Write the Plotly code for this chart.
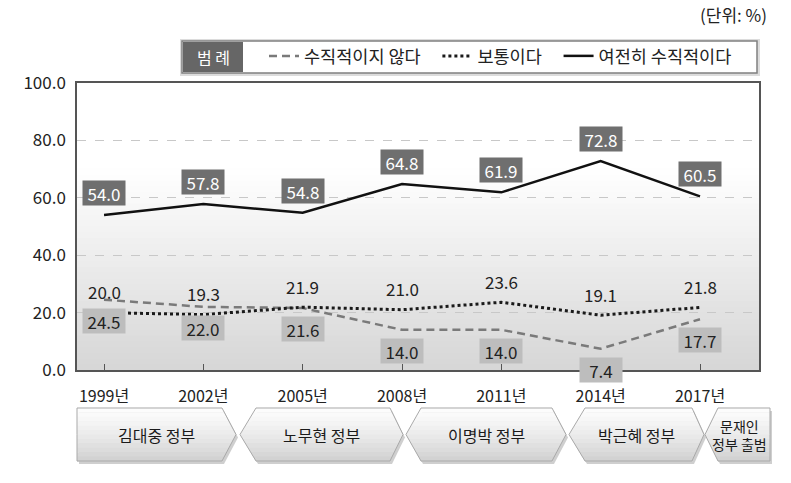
import plotly.graph_objects as go

# 조사 연도와 응답 비율(%)
YEARS = ["1999년", "2002년", "2005년", "2008년", "2011년", "2014년", "2017년"]
NOT_VERTICAL = [24.5, 22.0, 21.6, 14.0, 14.0, 7.4, 17.7]
NORMAL = [20.0, 19.3, 21.9, 21.0, 23.6, 19.1, 21.8]
STILL_VERTICAL = [54.0, 57.8, 54.8, 64.8, 61.9, 72.8, 60.5]
SERIES_NAMES = ["수직적이지 않다", "보통이다", "여전히 수직적이다"]
Y_TICKS = [0, 20, 40, 60, 80, 100]
Y_TICK_TEXT = ["0.0", "20.0", "40.0", "60.0", "80.0", "100.0"]
GOVERNMENTS = ["김대중 정부", "노무현 정부", "이명박 정부", "박근혜 정부", "문재인<br>정부 출범"]

FONT = "Noto Sans CJK KR"
W, H = 791, 483
PLOT_L, PLOT_R, PLOT_T, PLOT_B = 77, 759, 83, 370

# 정부 구간 도형: (왼쪽 끝, 왼쪽 모서리, 오른쪽 모서리, 오른쪽 끝) 픽셀
GOV_BOUNDS = [
    (77, 77, 222, 236),
    (240, 256, 390, 403),
    (406, 421, 552, 566),
    (569, 585, 692, 704),
    (705, 718, 770, 770),
]
GOV_TOP, GOV_BOTTOM = 408, 461
NBSP = "\u00a0"


def px(x):
    return (x - PLOT_L) / (PLOT_R - PLOT_L)


def py(y):
    return (PLOT_B - y) / (PLOT_B - PLOT_T)


def _gray(v):
    v = max(0, min(255, int(round(v))))
    return f"rgb({v},{v},{v})"


def _hex_edges(bounds, y):
    tip_l, corner_l, corner_r, tip_r = bounds
    mid = (GOV_TOP + GOV_BOTTOM) / 2
    half = (GOV_BOTTOM - GOV_TOP) / 2
    k = abs(y - mid) / half
    return tip_l + (corner_l - tip_l) * k, tip_r - (tip_r - corner_r) * k


def _path(points):
    return "M " + " L ".join(f"{px(x):.5f},{py(y):.5f}" for x, y in points) + " Z"


def _hex_points(bounds, dx=0, dy=0):
    tip_l, corner_l, corner_r, tip_r = bounds
    mid = (GOV_TOP + GOV_BOTTOM) / 2
    pts = [(corner_l, GOV_TOP), (corner_r, GOV_TOP), (tip_r, mid),
           (corner_r, GOV_BOTTOM), (corner_l, GOV_BOTTOM), (tip_l, mid)]
    return [(x + dx, y + dy) for x, y in pts]


fig = go.Figure()

styles = [
    dict(color="#7a7a7a", width=2.5, dash="8px,5px"),
    dict(color="#1a1a1a", width=3, dash="dot"),
    dict(color="#111111", width=2.5),
]
pads = [3, 3, 0]  # 범례 항목 사이 간격
for name, values, line, pad in zip(SERIES_NAMES, [NOT_VERTICAL, NORMAL, STILL_VERTICAL], styles, pads):
    fig.add_trace(go.Scatter(x=YEARS, y=values, mode="lines", name=name + NBSP * pad,
                             line=line, hoverinfo="skip"))

shapes = []

# 플롯 배경 그라데이션
n_strips = 35
for i in range(n_strips):
    y0 = 70 * i / n_strips
    y1 = 70 * (i + 1) / n_strips
    t = (y0 + y1) / 2 / 70
    shapes.append(dict(type="rect", xref="paper", yref="y", x0=0, x1=1, y0=y0, y1=y1 + 0.3,
                       fillcolor=_gray(214 + 41 * t), line_width=0, layer="below"))

# 정부 구간 도형
for bounds in GOV_BOUNDS:
    shapes.append(dict(type="path", xref="paper", yref="paper",
                       path=_path(_hex_points(bounds, 2, 3)),
                       fillcolor="#cfcfcf", line_width=0, layer="above"))
    n = 12
    for k in range(n):
        ya = GOV_TOP + (GOV_BOTTOM - GOV_TOP) * k / n
        yb = GOV_TOP + (GOV_BOTTOM - GOV_TOP) * (k + 1) / n
        la, ra = _hex_edges(bounds, ya)
        lb, rb = _hex_edges(bounds, yb)
        t = (k + 0.5) / n
        shapes.append(dict(type="path", xref="paper", yref="paper",
                           path=_path([(la, ya), (ra, ya), (rb, yb + 0.4), (lb, yb + 0.4)]),
                           fillcolor=_gray(253 - 45 * t ** 1.3), line_width=0, layer="above"))
    shapes.append(dict(type="path", xref="paper", yref="paper",
                       path=_path(_hex_points(bounds)),
                       line=dict(color="#a9a9a9", width=1), layer="above"))

# 범례 상자
shapes += [
    dict(type="rect", xref="paper", yref="paper", x0=px(180), x1=px(760), y0=py(39), y1=py(76),
         fillcolor="#dcdcdc", line_width=0),
    dict(type="rect", xref="paper", yref="paper", x0=px(182), x1=px(757), y0=py(41), y1=py(73),
         fillcolor="white", line=dict(color="#808080", width=1.5)),
    dict(type="rect", xref="paper", yref="paper", x0=px(183), x1=px(243), y0=py(42), y1=py(72),
         fillcolor="#666666", line_width=0),
]

annotations = [
    dict(text="범 례", xref="paper", yref="paper", x=px(213), y=py(57), showarrow=False,
         xanchor="center", yanchor="middle",
         font=dict(size=16, color="white", family=FONT)),
    dict(text="(단위: %)", xref="paper", yref="paper", x=px(769), y=py(14), xanchor="right",
         yanchor="middle", showarrow=False, font=dict(size=17, color="#222222", family=FONT)),
]

for year, v in zip(YEARS, STILL_VERTICAL):
    annotations.append(dict(x=year, y=v, text=f"{v:.1f}", showarrow=False, yshift=22,
                            bgcolor="#6f6f6f", width=38, height=20, borderpad=2,
                            font=dict(size=17, color="white", family=FONT)))
for year, v in zip(YEARS, NORMAL):
    annotations.append(dict(x=year, y=v, text=f"{v:.1f}", showarrow=False, yshift=21,
                            font=dict(size=17, color="#222222", family=FONT)))
for year, v in zip(YEARS, NOT_VERTICAL):
    annotations.append(dict(x=year, y=v, text=f"{v:.1f}", showarrow=False, yshift=-21,
                            bgcolor="#bdbdbd", width=38, height=20, borderpad=2,
                            font=dict(size=17, color="#222222", family=FONT)))

for name, (tip_l, corner_l, corner_r, tip_r) in zip(GOVERNMENTS, GOV_BOUNDS):
    small = "<br>" in name
    annotations.append(dict(text=name, xref="paper", yref="paper",
                            x=px((tip_l + tip_r) / 2 + (2 if small else 0)),
                            y=py((GOV_TOP + GOV_BOTTOM) / 2), showarrow=False,
                            xanchor="center", yanchor="middle",
                            font=dict(size=14 if small else 16, color="#1a1a1a", family=FONT)))

fig.update_layout(
    width=W,
    height=H,
    margin=dict(l=PLOT_L, r=W - PLOT_R, t=PLOT_T, b=H - PLOT_B),
    paper_bgcolor="white",
    plot_bgcolor="white",
    font=dict(family=FONT, size=16, color="#222222"),
    showlegend=True,
    legend=dict(
        orientation="h",
        x=px(264),
        y=py(38),
        xanchor="left",
        yanchor="top",
        bgcolor="rgba(0,0,0,0)",
        borderwidth=0,
        font=dict(size=17.5, color="#222222", family=FONT),
        itemclick=False,
        itemdoubleclick=False,
    ),
    shapes=shapes,
    annotations=annotations,
)
fig.update_xaxes(
    type="category",
    range=[-0.272, 6.594],
    showline=True,
    linecolor="#555555",
    linewidth=1.5,
    mirror=True,
    ticks="inside",
    ticklen=6,
    tickcolor="#555555",
    tickfont=dict(size=16, color="#222222", family=FONT),
    ticklabelstandoff=11,
    showgrid=False,
    fixedrange=True,
)
fig.update_yaxes(
    range=[0, 100],
    tickvals=Y_TICKS,
    ticktext=Y_TICK_TEXT,
    showline=True,
    linecolor="#555555",
    linewidth=1.5,
    mirror=True,
    ticks="",
    tickfont=dict(size=17, color="#222222", family=FONT),
    ticklabelstandoff=6,
    showgrid=True,
    gridcolor="#c8c8c8",
    griddash="dash",
    gridwidth=1,
    zeroline=False,
    fixedrange=True,
)

fig.write_html("out.html", config=dict(displayModeBar=False),
               post_script="document.body.style.margin='0';")
